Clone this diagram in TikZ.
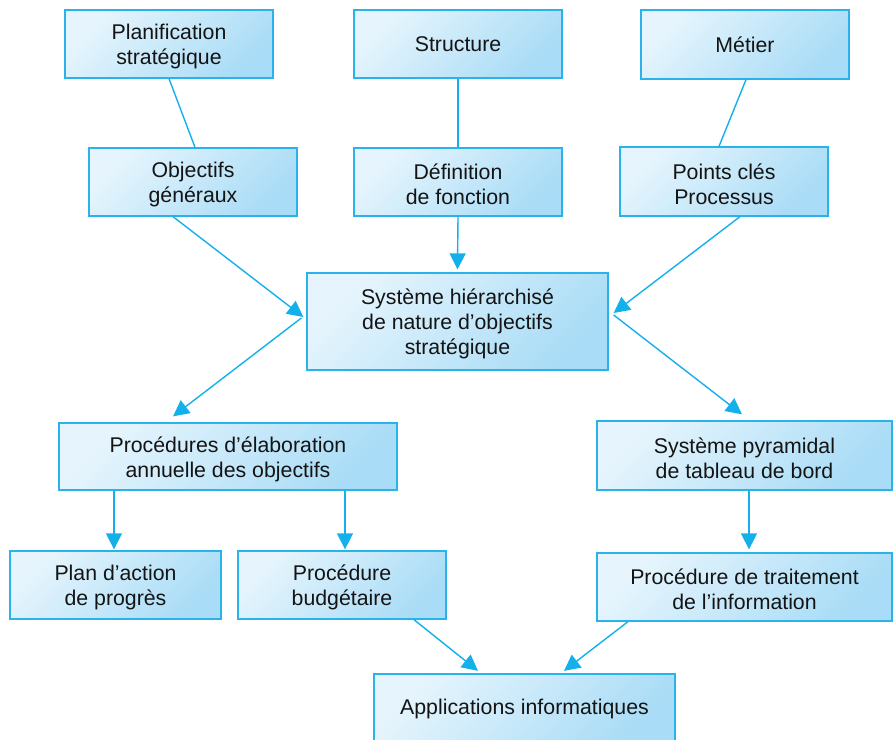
\documentclass[tikz,border=0pt]{standalone}
\usepackage{fontspec}
\setmainfont{Liberation Sans}
\usetikzlibrary{arrows.meta}

\definecolor{boxedge}{HTML}{29B3EA}
\definecolor{boxlight}{HTML}{E6F5FD}
\definecolor{boxdark}{HTML}{A9DCF6}
\definecolor{linkcol}{HTML}{14B0EC}

% taller first line, lowers multi-line text a little inside its box
\newcommand\firstline{\rule{0pt}{21pt}}

\tikzset{
  box/.style={draw=boxedge, line width=1.3pt,
    shading=axis, bottom color=boxdark, top color=boxlight, shading angle=45,
    minimum width=208pt, minimum height=68pt, inner sep=0pt, align=center,
    font=\fontsize{21.3}{25}\selectfont, text=black!92},
  link/.style={draw=linkcol, line width=1.4pt},
  arr/.style={link, -{Triangle[length=16pt,width=16pt]}},
}

\begin{document}
\begin{tikzpicture}[x=1pt,y=-1pt]
  \useasboundingbox (0,0) rectangle (894,739);
  \clip (0,0) rectangle (894,739);

  % top row
  \node[box] (plan)   at (169,44)   {\firstline Planification\\stratégique};
  \node[box] (struct) at (458,44)   {Structure};
  \node[box, minimum height=69pt] (metier) at (745,44.5) {Métier};

  % second row
  \node[box] (obj)    at (193,182)  {\firstline Objectifs\\généraux};
  \node[box] (def)    at (458,182)  {\firstline Définition\\de fonction};
  \node[box, minimum height=69pt] (points) at (724,181.5) {\firstline Points clés\\Processus};

  % central box
  \node[box, minimum width=301pt, minimum height=97pt] (sys) at (457.5,321.5)
    {\firstline Système hiérarchisé\\de nature d’objectifs\\stratégique};

  % third row
  \node[box, minimum width=338pt, minimum height=67pt] (proc) at (228,456.5)
    {\firstline Procédures d’élaboration\\annuelle des objectifs};
  \node[box, minimum width=295pt, minimum height=69pt] (pyr) at (744.5,455.5)
    {\firstline Système pyramidal\\de tableau de bord};

  % fourth row
  \node[box, minimum width=211pt] (action) at (115.5,585) {\firstline Plan d’action\\de progrès};
  \node[box] (budg) at (342,585) {\firstline Procédure\\budgétaire};
  \node[box, minimum width=295pt] (trait) at (744.5,587)
    {\firstline Procédure de traitement\\de l’information};

  % bottom box
  \node[box, minimum width=301pt, minimum height=70pt] (app) at (524.5,709)
    {Applications informatiques};

  % plain links between the top rows
  \draw[link] (plan.south) -- ([xshift=2pt]obj.north);
  \draw[link] (struct.south) -- (def.north);
  \draw[link] ([xshift=1pt]metier.south) -- ([xshift=-5pt]points.north);

  % arrows into the central box
  \draw[arr] ([xshift=-20pt]obj.south) -- ([xshift=-3pt,yshift=4.5pt]sys.west);
  \draw[arr] (def.south) -- ([yshift=3pt]sys.north);
  \draw[arr] ([xshift=16pt]points.south) -- ([xshift=5pt,yshift=8.5pt]sys.east);

  % arrows out of the central box
  \draw[arr] ([xshift=-5pt,yshift=3.5pt]sys.west) -- ([xshift=-55pt,yshift=6pt]proc.north);
  \draw[arr] ([xshift=5pt,yshift=6.5pt]sys.east) -- ([xshift=-2.5pt,yshift=6pt]pyr.north);

  % vertical arrows
  \draw[arr] ([xshift=-1.5pt]action.north |- proc.south) -- ([xshift=-1.5pt,yshift=1pt]action.north);
  \draw[arr] ([xshift=3pt]budg.north |- proc.south) -- ([xshift=3pt,yshift=1pt]budg.north);
  \draw[arr] ([xshift=4.5pt]trait.north |- pyr.south) -- ([xshift=4.5pt,yshift=3pt]trait.north);

  % arrows into the bottom box
  \draw[arr] ([xshift=72pt]budg.south) -- ([xshift=-46.5pt,yshift=2.5pt]app.north);
  \draw[arr] ([xshift=-116.5pt]trait.south) -- ([xshift=39.5pt,yshift=2.5pt]app.north);
\end{tikzpicture}
\end{document}
